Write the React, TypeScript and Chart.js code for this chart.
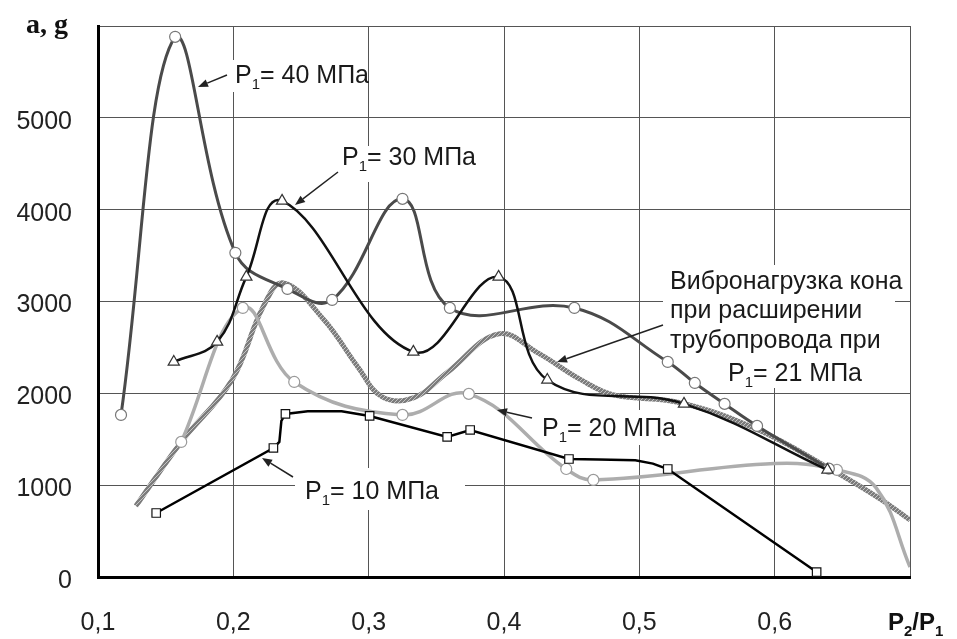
import { useEffect, useRef } from 'react';
import { Chart, registerables } from 'chart.js';

Chart.register(...registerables);

const FONT = '"Liberation Sans", Arial, sans-serif';

// Axis ticks
const xTickValues = [0.1, 0.2, 0.3, 0.4, 0.5, 0.6, 0.7];
const xTickLabels = ['0,1', '0,2', '0,3', '0,4', '0,5', '0,6', ''];
const yTickValues = [0, 1000, 2000, 3000, 4000, 5000, 6000];
const yTickLabels = ['0', '1000', '2000', '3000', '4000', '5000', ''];

// P1 = 40 MPa (circles)
const p40X = [0.117, 0.157, 0.2015, 0.24, 0.273, 0.325, 0.36, 0.452, 0.521, 0.541, 0.563, 0.587, 0.64];
const p40Y = [1765, 5882, 3530, 3137, 3017, 4118, 2930, 2930, 2342, 2113, 1885, 1645, 1180];

// P1 = 30 MPa (triangles)
const p30X = [0.156, 0.188, 0.2096, 0.236, 0.333, 0.396, 0.432, 0.533, 0.639];
const p30Y = [2342, 2560, 3268, 4096, 2451, 3268, 2146, 1885, 1166];

// P1 = 20 MPa (circles; some points without markers)
const p20X = [0.1615, 0.207, 0.245, 0.325, 0.374, 0.446, 0.466, 0.6, 0.646, 0.675, 0.7];
const p20Y = [1471, 2930, 2124, 1765, 1994, 1176, 1057, 1235, 1166, 970, 109];
const p20Marker = [1, 1, 1, 1, 1, 1, 1, 0, 1, 0, 0];

// P1 = 10 MPa (squares; some points without markers)
const p10X = [0.143, 0.2296, 0.234, 0.2355, 0.2385, 0.255, 0.28, 0.3007, 0.358, 0.375, 0.448, 0.47, 0.497, 0.51, 0.521, 0.631];
const p10Y = [697, 1405, 1470, 1700, 1776, 1805, 1805, 1754, 1525, 1601, 1285, 1280, 1272, 1235, 1176, 54];
const p10Marker = [1, 1, 0, 0, 1, 0, 0, 1, 1, 1, 1, 0, 0, 0, 1, 1];

// Вибронагрузка при P1 = 21 MPa (hatched line, no markers)
const p21X = [0.128, 0.1615, 0.199, 0.222, 0.237, 0.267, 0.292, 0.31, 0.333, 0.3585, 0.396, 0.425, 0.457, 0.481, 0.531, 0.588, 0.64, 0.677, 0.7];
const p21Y = [773, 1471, 2146, 2941, 3203, 2800, 2288, 1961, 1950, 2233, 2647, 2440, 2146, 1983, 1895, 1601, 1187, 860, 621];

const toPoints = (xs: number[], ys: number[]) => xs.map((x, i) => ({ x, y: ys[i] }));

function drawP1(ctx: CanvasRenderingContext2D, x: number, base: number, sub: string, rest: string, size = 25) {
  ctx.font = `${size}px ${FONT}`;
  ctx.fillText('P', x, base);
  let w = ctx.measureText('P').width;
  ctx.font = `${Math.round(size * 0.6)}px ${FONT}`;
  ctx.fillText(sub, x + w, base + 6);
  w += ctx.measureText(sub).width;
  ctx.font = `${size}px ${FONT}`;
  ctx.fillText(rest, x + w, base);
}

function arrow(ctx: CanvasRenderingContext2D, x1: number, y1: number, x2: number, y2: number) {
  ctx.save();
  ctx.strokeStyle = '#222';
  ctx.fillStyle = '#222';
  ctx.lineWidth = 1.5;
  const a = Math.atan2(y2 - y1, x2 - x1);
  const L = 10, W = 4;
  const bx = x2 - L * Math.cos(a), by = y2 - L * Math.sin(a);
  ctx.beginPath();
  ctx.moveTo(x1, y1);
  ctx.lineTo(bx, by);
  ctx.stroke();
  ctx.beginPath();
  ctx.moveTo(x2, y2);
  ctx.lineTo(bx + W * Math.sin(a), by - W * Math.cos(a));
  ctx.lineTo(bx - W * Math.sin(a), by + W * Math.cos(a));
  ctx.closePath();
  ctx.fill();
  ctx.restore();
}

const annotationPlugin = {
  id: 'annotations',
  beforeDatasetsDraw(chart: any) {
    const ctx: CanvasRenderingContext2D = chart.ctx;
    ctx.save();
    ctx.fillStyle = '#fff';
    ctx.fillRect(230, 60, 138, 32);
    ctx.fillRect(337, 146, 158, 36);
    ctx.fillRect(663, 265, 232, 123);
    ctx.fillRect(537, 410, 158, 35);
    ctx.fillRect(295, 468, 170, 42);
    ctx.fillStyle = '#1a1a1a';
    ctx.textBaseline = 'alphabetic';
    ctx.textAlign = 'left';
    drawP1(ctx, 235, 83, '1', '= 40 МПа');
    drawP1(ctx, 342, 165, '1', '= 30 МПа');
    ctx.font = `25px ${FONT}`;
    ctx.fillText('Вибронагрузка кона', 670, 289);
    ctx.fillText('при расширении', 670, 318);
    ctx.fillText('трубопровода при', 670, 348);
    drawP1(ctx, 728, 381, '1', '= 21 МПа');
    drawP1(ctx, 542, 436, '1', '= 20 МПа');
    drawP1(ctx, 305, 499, '1', '= 10 МПа');
    ctx.restore();
  },
  afterDraw(chart: any) {
    const ctx: CanvasRenderingContext2D = chart.ctx;
    ctx.save();
    arrow(ctx, 227, 75, 198, 87);
    arrow(ctx, 338, 172, 295, 205);
    arrow(ctx, 663, 325, 557, 362);
    arrow(ctx, 532, 418, 497, 410);
    arrow(ctx, 293, 477, 262, 458);
    ctx.fillStyle = '#111';
    ctx.textBaseline = 'alphabetic';
    ctx.font = `bold 28px "Liberation Serif", "Times New Roman", serif`;
    ctx.fillText('a, g', 26, 33);
    // P2/P1
    ctx.font = `bold 24px ${FONT}`;
    let x = 888;
    const base = 630;
    ctx.fillText('P', x, base);
    x += ctx.measureText('P').width;
    ctx.font = `bold 15px ${FONT}`;
    ctx.fillText('2', x, base + 6);
    x += ctx.measureText('2').width;
    ctx.font = `bold 24px ${FONT}`;
    ctx.fillText('/P', x, base);
    x += ctx.measureText('/P').width;
    ctx.font = `bold 15px ${FONT}`;
    ctx.fillText('1', x, base + 6);
    ctx.restore();
  },
};

export default function App() {
  const ref = useRef<HTMLCanvasElement | null>(null);
  useEffect(() => {
    document.body.style.margin = '0';
    const canvas = ref.current!;
    const ctx = canvas.getContext('2d')!;
    const pc = document.createElement('canvas');
    pc.width = 4;
    pc.height = 4;
    const g = pc.getContext('2d')!;
    g.fillStyle = '#7c7c7c';
    g.fillRect(0, 0, 4, 4);
    g.fillStyle = '#c4c4c4';
    g.fillRect(0, 0, 1, 1);
    g.fillRect(2, 2, 1, 1);
    g.fillRect(1, 3, 1, 1);
    g.fillRect(3, 1, 1, 1);
    const hatch = ctx.createPattern(pc, 'repeat')!;

    const chart = new Chart(canvas, {
      type: 'line',
      data: {
        datasets: [
          {
            label: 'P1 = 10 МПа',
            data: toPoints(p10X, p10Y),
            borderColor: '#000',
            borderWidth: 2.5,
            tension: 0,
            pointStyle: 'rect',
            pointRadius: p10Marker.map((m) => (m ? 6 : 0)),
            pointBackgroundColor: '#fff',
            pointBorderColor: '#111',
            pointBorderWidth: 1.2,
          },
          {
            label: 'P1 = 30 МПа',
            data: toPoints(p30X, p30Y),
            borderColor: '#111',
            borderWidth: 2.5,
            tension: 0.4,
            pointStyle: 'triangle',
            pointRadius: 6.5,
            pointBackgroundColor: '#fff',
            pointBorderColor: '#333',
            pointBorderWidth: 1.2,
          },
          {
            label: 'P1 = 40 МПа',
            data: toPoints(p40X, p40Y),
            borderColor: '#4a4a4a',
            borderWidth: 3,
            tension: 0.4,
            pointStyle: 'circle',
            pointRadius: 5.5,
            pointBackgroundColor: '#fff',
            pointBorderColor: '#777',
            pointBorderWidth: 1.2,
          },
          {
            label: 'P1 = 20 МПа',
            data: toPoints(p20X, p20Y),
            borderColor: '#adadad',
            borderWidth: 3.5,
            tension: 0.4,
            pointStyle: 'circle',
            pointRadius: p20Marker.map((m) => (m ? 5.5 : 0)),
            pointBackgroundColor: '#fff',
            pointBorderColor: '#9a9a9a',
            pointBorderWidth: 1.2,
          },
          {
            label: 'Вибронагрузка кона при P1 = 21 МПа',
            data: toPoints(p21X, p21Y),
            borderColor: hatch as any,
            borderWidth: 5,
            tension: 0.4,
            pointRadius: 0,
          },
        ],
      },
      options: {
        responsive: false,
        animation: false,
        layout: { padding: { top: 26, right: 47, left: 0, bottom: 0 } },
        plugins: { legend: { display: false }, tooltip: { enabled: false } },
        scales: {
          x: {
            type: 'linear',
            min: 0.1,
            max: 0.7,
            afterFit: (s: any) => {
              s.height = 62;
              s.paddingLeft = 0;
              s.paddingRight = 0;
            },
            afterBuildTicks: (s: any) => {
              s.ticks = xTickValues.map((v) => ({ value: v }));
            },
            ticks: {
              padding: 31,
              color: '#222',
              font: { family: FONT, size: 25 },
              callback: (v: any) => {
                const i = xTickValues.findIndex((t) => Math.abs(t - Number(v)) < 1e-6);
                return i >= 0 ? xTickLabels[i] : '';
              },
            },
            grid: { color: '#555', lineWidth: 1, drawTicks: false },
            border: { color: '#000', width: 3 },
          },
          y: {
            type: 'linear',
            min: 0,
            max: 6000,
            afterFit: (s: any) => {
              s.width = 98;
              s.paddingTop = 0;
              s.paddingBottom = 0;
            },
            afterBuildTicks: (s: any) => {
              s.ticks = yTickValues.map((v) => ({ value: v }));
            },
            ticks: {
              padding: 26,
              labelOffset: 4,
              color: '#222',
              font: { family: FONT, size: 25 },
              callback: (v: any) => {
                const i = yTickValues.indexOf(Number(v));
                return i >= 0 ? yTickLabels[i] : '';
              },
            },
            grid: { color: '#555', lineWidth: 1, drawTicks: false },
            border: { color: '#000', width: 3 },
          },
        },
      },
      plugins: [annotationPlugin],
    });
    return () => chart.destroy();
  }, []);
  return (
    <div style={{ width: 957, height: 639 }}>
      <canvas ref={ref} width={957} height={639} />
    </div>
  );
}
